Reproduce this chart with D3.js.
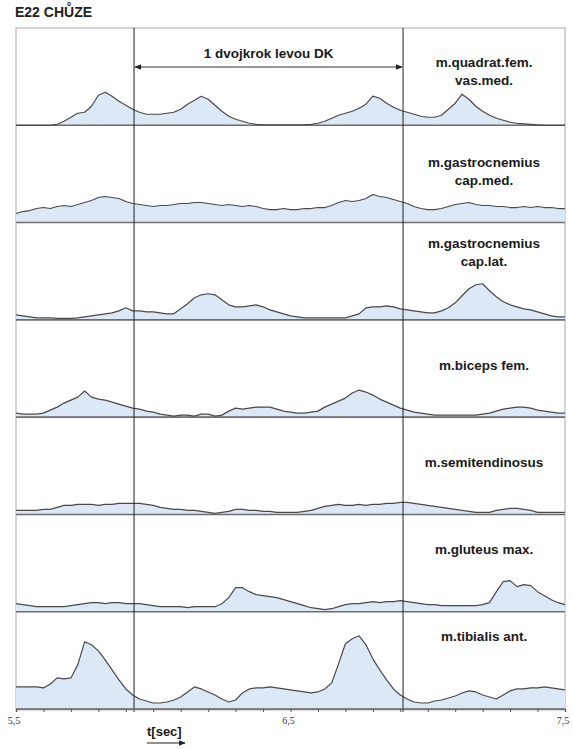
<!DOCTYPE html>
<html><head><meta charset="utf-8">
<script src="https://cdn.jsdelivr.net/npm/d3@7"></script>
<style>body{margin:0;background:#fff} svg{display:block} text{font-family:"Liberation Sans",Arial,sans-serif}</style>
</head><body><svg id="c" width="573" height="749"></svg>
<script>
// ---------- data ----------
const title = "E22 CHŮZE";
const strideLabel = "1 dvojkrok levou DK";
const axisTitle = "t[sec]";
const muscles = [
  ["m.quadrat.fem.", "vas.med."],
  ["m.gastrocnemius", "cap.med."],
  ["m.gastrocnemius", "cap.lat."],
  ["m.biceps fem."],
  ["m.semitendinosus"],
  ["m.gluteus max."],
  ["m.tibialis ant."]
];
const tStart = 5.5, tStep = 0.025;       // sampling of the traces (s)
const quadVasMed = [0,0,0,0,0,0,1,4,8,12,13,19,30,33,29,24,20,16,13,11,11,11,12,13,16,21,25,29,26,20,14,9,6,4,2,1,0.5,0.5,0.5,0.5,0.5,0.5,0.5,1,2,4,7,10,12,14,17,21,29,27,22,18,15,13,11,9,8,8,10,16,22,31,26,19,14,10,7,5,3,2,1.5,1,0.5,0,0,0,0];
const gastroMed = [9,11,12,14,15,14,16,17,16,18,20,22,25,26,25,24,21,19,18,17,16,17,17,18,19,19,20,20,19,18,17,18,17,16,17,16,14,13,13,14,13,13,14,14,15,15,17,20,22,21,22,24,28,26,25,23,21,19,16,14,13,13,14,16,18,19,20,18,17,17,16,16,15,15,16,15,16,15,15,14,14];
const gastroLat = [5,4,3,2,2,2,1.5,1.5,1.5,2,3,4,5,6,7,9,12,9,9,8,8,7,6,6,11,16,22,25,26,25,20,15,13,13,14,15,13,10,8,6,4,3,2,2,2,2,2,2,2,4,6,12,13,13,14,13,11,10,9,8,7,7,9,12,17,24,31,35,36,29,23,18,15,13,11,10,8,6,4,3,3];
const bicepsFem = [4,3,3,3,4,7,10,14,17,20,26,20,18,17,15,13,11,9,8,6,5,3,2,1,2,2,1,3,3,1,2,6,9,8,9,10,10,10,8,6,5,4,4,5,6,10,13,16,19,24,27,25,22,18,15,12,9,7,5,4,3,2,2,2,2,2,2,2,3,4,6,8,9,10,10,9,7,6,5,4,4];
const semitend = [4,4,4,4,5,5,7,9,9,10,10,10,9,10,10,11,11,11,11,10,9,7,6,5,5,4,4,3,2,1,2,3,5,5,4,4,3,3,2,2,2,2,3,4,6,8,9,10,9,9,10,9,10,10,11,11,12,12,11,10,9,8,7,6,5,4,3,2,2,2,4,5,6,6,5,4,2,2,2,2,2];
const gluteusMax = [8,7,6,5,5,5,5,5,6,7,8,9,9,8,9,9,8,8,8,7,6,5,5,5,5,4,5,5,5,5,8,14,24,24,20,17,16,15,14,12,10,8,6,4,3,2,3,5,7,8,8,9,10,9,10,10,11,10,9,8,7,7,6,6,6,6,6,6,7,9,20,30,31,25,27,26,20,16,12,9,7];
const tibialisAnt = [22,22,22,22,21,25,31,30,31,44,67,64,58,49,39,29,20,14,10,8,6,6,7,9,12,17,22,20,17,14,10,7,9,16,20,21,21,22,21,20,19,18,17,16,17,20,26,45,65,70,73,64,50,39,29,20,14,10,7,6,6,8,9,11,13,16,18,17,14,12,10,14,18,20,20,21,21,22,21,20,19];
const series = [quadVasMed, gastroMed, gastroLat, bicepsFem, semitend, gluteusMax, tibialisAnt];
const strideMarks = [5.93, 6.91];          // one stride of the left leg (s)
const majorTicks = [5.5, 6.5, 7.5];
const majorLabels = ["5,5", "6,5", "7,5"];
const minorTicks = [5.5,5.6,5.7,5.8,5.9,6.0,6.1,6.2,6.3,6.4,6.5,6.6,6.7,6.8,6.9,7.0,7.1,7.2,7.3,7.4,7.5];

// ---------- layout ----------
const W = 573, H = 749;
const pLeft = 16, pRight = 565, pTop = 28, pBottom = 709;
const labelBaselines = [[39, 57], [42, 60], [25, 43], [50], [50], [40], [29]];

const svg = d3.select("#c");
const x = d3.scaleLinear().domain([5.5, 7.5]).range([pLeft, pRight]);
const band = d3.scaleBand().domain(d3.range(series.length)).range([pTop, pBottom]);
const bh = band.bandwidth();
const y = d3.scaleLinear().domain([0, 97]).range([bh, 0]);

const defs = svg.append("defs");
defs.append("marker").attr("id", "ah").attr("viewBox", "0 0 10 10").attr("refX", 9).attr("refY", 5)
  .attr("markerWidth", 7).attr("markerHeight", 7).attr("markerUnits", "userSpaceOnUse")
  .attr("orient", "auto-start-reverse")
  .append("path").attr("d", "M0,1 L10,5 L0,9 Z").attr("fill", "#222");

// title
svg.append("text").attr("x", 15).attr("y", 17).attr("font-size", 14).attr("font-weight", "bold")
  .attr("fill", "#222").text(title);

// outer border
svg.append("rect").attr("x", pLeft).attr("y", pTop).attr("width", pRight - pLeft).attr("height", pBottom - pTop)
  .attr("fill", "none").attr("stroke", "#b8b8b8").attr("stroke-width", 1.2);

const area = d3.area().x((d, i) => x(tStart + i * tStep)).y0(bh).y1(d => y(d));
const line = d3.line().x((d, i) => x(tStart + i * tStep)).y(d => y(d));

series.forEach((s, k) => {
  const g = svg.append("g").attr("transform", `translate(0,${band(k)})`);
  g.append("path").datum(s).attr("d", area).attr("fill", "#dce8f5");
  g.append("line").attr("x1", pLeft).attr("x2", pRight).attr("y1", bh).attr("y2", bh)
    .attr("stroke", "#6e6e6e").attr("stroke-width", 1.6);
  g.append("path").datum(s).attr("d", line).attr("fill", "none")
    .attr("stroke", "#4a4a4a").attr("stroke-width", 1.2).attr("stroke-linejoin", "round");
  const lx = (x(strideMarks[1]) + pRight) / 2;
  muscles[k].forEach((txt, j) => {
    g.append("text").attr("x", lx).attr("y", labelBaselines[k][j]).attr("text-anchor", "middle")
      .attr("font-size", 13.5).attr("font-weight", "bold").attr("fill", "#1a1a1a").text(txt);
  });
});

// stride markers
svg.selectAll(".mk").data(strideMarks).enter().append("line")
  .attr("x1", d => x(d)).attr("x2", d => x(d)).attr("y1", pTop).attr("y2", pBottom + 3)
  .attr("stroke", "#222").attr("stroke-width", 1);

// stride arrow
svg.append("line").attr("x1", x(strideMarks[0]) + 1).attr("x2", x(strideMarks[1]) - 1)
  .attr("y1", 67).attr("y2", 67).attr("stroke", "#333").attr("stroke-width", 1)
  .attr("marker-start", "url(#ah)").attr("marker-end", "url(#ah)");
svg.append("text").attr("x", (x(strideMarks[0]) + x(strideMarks[1])) / 2).attr("y", 58)
  .attr("text-anchor", "middle").attr("font-size", 13.5).attr("font-weight", "bold").attr("fill", "#1a1a1a")
  .text(strideLabel);

// x axis
const axis = d3.axisBottom(x).tickValues(minorTicks).tickSize(3).tickFormat("");
const ag = svg.append("g").attr("transform", `translate(0,${pBottom})`).call(axis);
ag.select(".domain").attr("stroke", "#777").attr("stroke-width", 1.4);
ag.selectAll(".tick line").attr("stroke", "#555");
svg.selectAll(".maj").data(majorTicks).enter().append("text")
  .attr("x", d => x(d) - 2).attr("y", 724).attr("text-anchor", "middle")
  .attr("font-size", 10).attr("fill", "#333")
  .style("font-family", "'Liberation Serif','Times New Roman',serif")
  .text((d, i) => majorLabels[i]);

// axis title with arrow
svg.append("text").attr("x", 147).attr("y", 736).attr("font-size", 13).attr("font-weight", "bold")
  .attr("fill", "#1a1a1a").text(axisTitle);
svg.append("line").attr("x1", 147).attr("x2", 185).attr("y1", 743).attr("y2", 743)
  .attr("stroke", "#222").attr("stroke-width", 1.2).attr("marker-end", "url(#ah)");
</script></body></html>
